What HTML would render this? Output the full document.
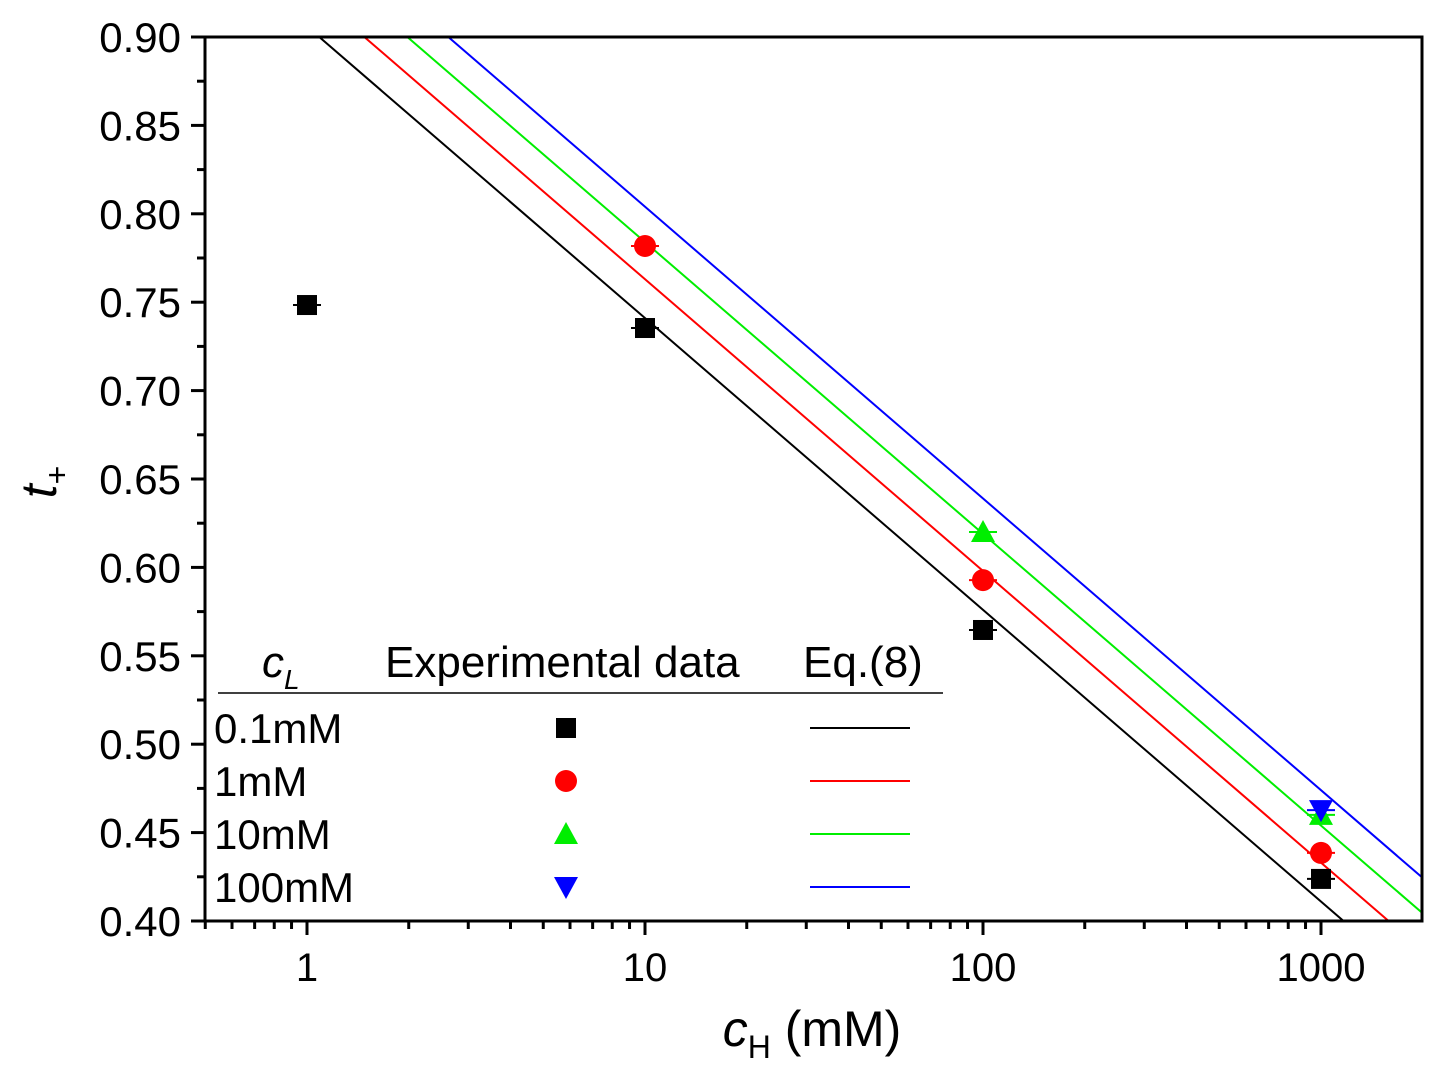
<!DOCTYPE html>
<html><head><meta charset="utf-8"><style>
body{margin:0;background:#fff;}
svg{display:block;font-family:"Liberation Sans",Arial,sans-serif;}
</style></head><body>
<svg id="chart" width="1439" height="1074">
<defs><clipPath id="clip"><rect x="205" y="37" width="1217" height="884"/></clipPath></defs>
<g id="lines" clip-path="url(#clip)"></g>
<g id="marks"></g>
<rect x="205" y="37" width="1217" height="884" fill="none" stroke="#000" stroke-width="3"/>
<g id="axes"></g>
<text x="812" y="1046" font-size="50" text-anchor="middle"><tspan font-style="italic">c</tspan><tspan font-size="32" dy="12">H</tspan><tspan dy="-12"> (mM)</tspan></text>
<text transform="translate(56,482) rotate(-90)" font-size="50" text-anchor="middle"><tspan font-style="italic">t</tspan><tspan font-size="32" dy="12">+</tspan></text>
<g id="legend">
<text x="262" y="677" font-size="44" font-style="italic">c<tspan font-size="28" dy="12">L</tspan></text>
<text x="385" y="677" font-size="44">Experimental data</text>
<text x="803" y="677" font-size="44">Eq.(8)</text>
<line x1="218" y1="693" x2="943" y2="693" stroke="#000" stroke-width="1.5"/>
</g>
<script>
const seriesNames=['0.1mM','1mM','10mM','100mM'];
const colors=['#000000','#ff0000','#00ee00','#0000ff'];
const shapes=['square','circle','up','down'];
const fitIntercepts=[0.906,0.928,0.949,0.969];
const fitSlopes=[-0.165,-0.165,-0.165,-0.165];
const xBlack=[1,10,100,1000], yBlack=[0.7484,0.7354,0.5646,0.4238];
const xRed=[10,100,1000], yRed=[0.7818,0.5928,0.4385];
const xGreen=[100,1000], yGreen=[0.620,0.460];
const xBlue=[1000], yBlue=[0.4627];
const yTicks=['0.40','0.45','0.50','0.55','0.60','0.65','0.70','0.75','0.80','0.85','0.90'];
const xTicks=[1,10,100,1000];
const NS='http://www.w3.org/2000/svg';
const X=v=>307+338*Math.log10(v);
const Y=v=>921-(v-0.40)/0.5*884;
function mk(t,a,p){const e=document.createElementNS(NS,t);for(const k in a)e.setAttribute(k,a[k]);p.appendChild(e);return e;}
const axes=document.getElementById('axes');
yTicks.forEach(t=>{const y=Y(+t);mk('line',{x1:191,y1:y,x2:205,y2:y,stroke:'#000','stroke-width':3},axes);
const tx=mk('text',{x:181,y:y+15,'font-size':42,'text-anchor':'end'},axes);tx.textContent=t;


if(+t<0.9){const ym=Y(+t+0.025);mk('line',{x1:197,y1:ym,x2:205,y2:ym,stroke:'#000','stroke-width':3},axes);}});
for(let d=-1;d<=3;d++)for(let m=1;m<10;m++){const v=m*Math.pow(10,d);const x=X(v);if(x<205||x>1422)continue;
const maj=m===1;mk('line',{x1:x,y1:921,x2:x,y2:maj?935:929,stroke:'#000','stroke-width':3},axes);}
xTicks.forEach(v=>{const tx=mk('text',{x:X(v),y:981,'font-size':40,'text-anchor':'middle'},axes);tx.textContent=v;

});
const lines=document.getElementById('lines');
fitIntercepts.forEach((a,i)=>{const x0=0.5,x1=2000;const l=mk('line',{x1:X(x0),y1:Y(a+fitSlopes[i]*Math.log10(x0)),x2:X(x1),y2:Y(a+fitSlopes[i]*Math.log10(x1)),stroke:colors[i],'stroke-width':2},lines);

});
function marker(shape,cx,cy,c,p){let e;
if(shape==='square')e=mk('rect',{x:cx-10,y:cy-10,width:20,height:20,fill:c},p);
else if(shape==='circle')e=mk('circle',{cx:cx,cy:cy,r:11,fill:c},p);
else if(shape==='up')e=mk('polygon',{points:`${cx},${cy-12} ${cx-12},${cy+10} ${cx+12},${cy+10}`,fill:c},p);
else e=mk('polygon',{points:`${cx},${cy+12} ${cx-12},${cy-10} ${cx+12},${cy-10}`,fill:c},p);return e;}
const marks=document.getElementById('marks');
[[xBlack,yBlack],[xRed,yRed],[xGreen,yGreen],[xBlue,yBlue]].forEach((s,i)=>{s[0].forEach((xv,j)=>{
const cx=X(xv),cy=Y(s[1][j]);
mk('line',{x1:cx-14,y1:cy,x2:cx+14,y2:cy,stroke:colors[i],'stroke-width':2},marks);
mk('line',{x1:cx,y1:cy-8,x2:cx,y2:cy+8,stroke:colors[i],'stroke-width':2},marks);
const m=marker(shapes[i],cx,cy,colors[i],marks);

});});
const leg=document.getElementById('legend');
seriesNames.forEach((n,i)=>{const y=728+53*i;
const t=mk('text',{x:214,y:y+15,'font-size':42},leg);t.textContent=n;


const m=marker(shapes[i],566,y,colors[i],leg);


const l=mk('line',{x1:810,y1:y,x2:910,y2:y,stroke:colors[i],'stroke-width':2},leg);

});
</script>
</svg>
</body></html>
